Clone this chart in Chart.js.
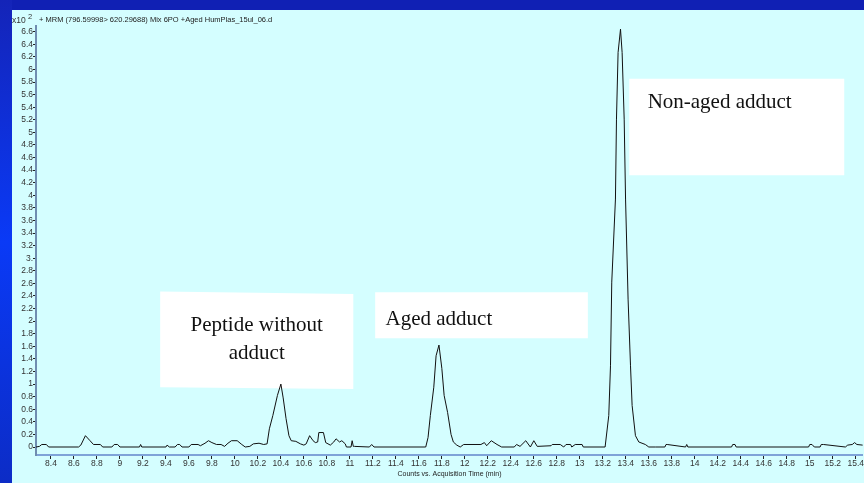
<!DOCTYPE html>
<html><head><meta charset="utf-8">
<script src="https://cdn.jsdelivr.net/npm/chart.js@4/dist/chart.umd.min.js"></script>
<style>html,body{margin:0;padding:0;background:#d4feff;overflow:hidden}#wrap{width:864px;height:483px;position:relative}canvas{display:block}</style>
</head><body><div id="wrap"><canvas id="c" width="864" height="483"></canvas></div>
<script>
// ---- data ----
const times = [
 8.27,8.30,8.32,8.36,8.38,8.64,8.66,8.70,8.74,8.77,8.83,8.85,8.93,8.95,8.98,9.00,
 9.17,9.18,9.19,9.40,9.41,9.43,9.48,9.50,9.52,9.54,9.60,9.62,9.68,9.70,9.74,9.77,
 9.80,9.84,9.88,9.91,9.94,9.97,10.02,10.06,10.09,10.13,10.16,10.21,10.25,10.28,10.30,
 10.33,10.37,10.40,10.42,10.445,10.47,10.49,10.53,10.57,10.60,10.62,10.65,10.68,10.70,
 10.72,10.73,10.77,10.79,10.83,10.86,10.88,10.91,10.93,10.96,10.97,11.01,11.02,11.03,
 11.04,11.17,11.19,11.21,11.66,11.68,11.70,11.73,11.75,11.775,11.80,11.82,11.85,11.88,
 11.90,11.93,11.96,11.99,12.14,12.17,12.19,12.23,12.28,12.32,12.43,12.45,12.48,12.53,
 12.57,12.60,12.63,12.75,12.76,12.83,12.86,12.88,12.92,12.93,12.96,13.02,13.03,13.22,
 13.252,13.267,13.278,13.31,13.319,13.333,13.354,13.368,13.386,13.398,13.42,13.441,
 13.455,13.484,13.513,13.57,13.60,13.66,13.74,13.75,13.76,13.92,13.93,13.94,14.32,14.33,
 14.35,14.36,14.99,15.00,15.02,15.04,15.09,15.10,15.12,15.31,15.33,15.37,15.39,15.41,15.46
];
const counts = [
 0,0.01,0.04,0.04,0,0,0.03,0.18,0.10,0.04,0.04,0,0,0.04,0.04,0,
 0,0.04,0,0,0.03,0,0,0.04,0.04,0,0,0.04,0.04,0.02,0.06,0.10,
 0.07,0.04,0.04,0.01,0.06,0.10,0.10,0.04,0.0,0.01,0.05,0.06,0.04,0.05,0.29,
 0.50,0.82,1.00,0.78,0.45,0.18,0.10,0.09,0.05,0.03,0.05,0.18,0.10,0.07,
 0.08,0.23,0.23,0.07,0.03,0.08,0.13,0.08,0.10,0.05,0.0,0.0,0.10,0.01,
 0.01,0,0.04,0,0,0.15,0.50,0.95,1.45,1.62,1.25,0.82,0.55,0.20,
 0.08,0.03,0,0.04,0.04,0.07,0.02,0.10,0.04,0,0,0.04,0.01,0.10,
 0,0.10,0.01,0.02,0.04,0.04,0,0.04,0.04,0,0.04,0.04,0,0,
 0.50,1.29,2.62,3.94,5.21,6.27,6.64,6.27,5.21,3.94,2.35,1.29,
 0.66,0.18,0.08,0.04,0.0,0,0,0.04,0.04,0,0.04,0,0,0.04,
 0.04,0,0,0.04,0.04,0,0,0.04,0.04,0,0.03,0.04,0.07,0.04,0.03
];
const yTickValues = [0,0.2,0.4,0.6,0.8,1,1.2,1.4,1.6,1.8,2,2.2,2.4,2.6,2.8,3,3.2,3.4,3.6,3.8,
  4,4.2,4.4,4.6,4.8,5,5.2,5.4,5.6,5.8,6,6.2,6.4,6.6];
const xTickValues = [8.4,8.6,8.8,9,9.2,9.4,9.6,9.8,10,10.2,10.4,10.6,10.8,11,11.2,11.4,11.6,11.8,
  12,12.2,12.4,12.6,12.8,13,13.2,13.4,13.6,13.8,14,14.2,14.4,14.6,14.8,15,15.2,15.4];
const plotTitle = "+ MRM (796.59998> 620.29688) Mix 6PO +Aged HumPlas_15ul_06.d";
const xAxisTitle = "Counts vs. Acquisition Time (min)";
const yScaleBase = "x10";
const yScaleExp = "2";
const annotationTexts = [["Peptide without","adduct"],["Aged adduct"],["Non-aged adduct"]];

// ---- layout / style for annotations (data coordinates) ----
const annotationBoxes = [
  {x0:9.35,x1:11.03,yTopL:2.47,yTopR:2.43,yBotL:0.95,yBotR:0.92,align:'center',tx:10.19,ty:[1.93,1.49]},
  {x0:11.22,x1:13.07,yTopL:2.46,yTopR:2.46,yBotL:1.73,yBotR:1.73,align:'left',tx:11.31,ty:[2.03]},
  {x0:13.43,x1:15.30,yTopL:5.85,yTopR:5.85,yBotL:4.32,yBotR:4.32,align:'left',tx:13.59,ty:[5.48]}
];

const bgPlugin = {
  id:'bg',
  beforeDraw(chart){
    const c = chart.ctx, W = chart.width, H = chart.height;
    c.save();
    c.fillStyle = '#d4feff'; c.fillRect(0,0,W,H);
    c.fillStyle = '#1020b4'; c.fillRect(0,0,W,10);
    const g = c.createLinearGradient(0,0,0,H);
    g.addColorStop(0,'#1424b8'); g.addColorStop(0.5,'#0a3af6'); g.addColorStop(1,'#0c2cc6');
    c.fillStyle = g; c.fillRect(0,0,12,H);
    c.restore();
  },
  beforeDatasetsDraw(chart){
    const c = chart.ctx, xs = chart.scales.x, ys = chart.scales.y;
    c.save();
    annotationBoxes.forEach((b,i)=>{
      const xl = xs.getPixelForValue(b.x0), xr = xs.getPixelForValue(b.x1);
      c.fillStyle = '#ffffff';
      c.beginPath();
      c.moveTo(xl, ys.getPixelForValue(b.yTopL));
      c.lineTo(xr, ys.getPixelForValue(b.yTopR));
      c.lineTo(xr, ys.getPixelForValue(b.yBotR));
      c.lineTo(xl, ys.getPixelForValue(b.yBotL));
      c.closePath(); c.fill();
      c.fillStyle = '#111';
      c.font = '21px "Liberation Serif", "Times New Roman", serif';
      c.textAlign = b.align; c.textBaseline = 'middle';
      annotationTexts[i].forEach((t,j)=>{
        c.fillText(t, xs.getPixelForValue(b.tx), ys.getPixelForValue(b.ty[j]));
      });
    });
    c.restore();
  },
  afterDraw(chart){
    const c = chart.ctx;
    c.save();
    c.fillStyle = '#222';
    c.textAlign = 'left'; c.textBaseline = 'middle';
    c.font = '7.5px "Liberation Sans", Arial, sans-serif';
    c.fillText(plotTitle, 39, 20);
    c.font = '8.5px "Liberation Sans", Arial, sans-serif';
    c.fillStyle = '#333';
    c.fillText(yScaleBase, 12, 20.5);
    c.font = '7.5px "Liberation Sans", Arial, sans-serif';
    c.fillText(yScaleExp, 28, 17);
    c.restore();
  }
};

const tickFont = {family:'"Liberation Sans", Arial, sans-serif', size:8.5};
new Chart(document.getElementById('c'), {
  type:'line',
  data:{datasets:[{
    data: times.map((t,i)=>({x:t, y:counts[i]})),
    borderColor:'#111', borderWidth:1, pointRadius:0, tension:0, fill:false
  }]},
  options:{
    responsive:false, animation:false, devicePixelRatio:1,
    layout:{padding:{top:26,left:0,right:0,bottom:0}},
    plugins:{legend:{display:false}, tooltip:{enabled:false}},
    scales:{
      x:{
        type:'linear', min:8.27, max:15.463,
        afterBuildTicks(s){ s.ticks = xTickValues.map(v=>({value:v})); },
        afterFit(s){ s.height = 28; },
        ticks:{autoSkip:false, maxRotation:0, padding:0, color:'#333', font:tickFont,
          callback:(v)=>String(Number(v.toFixed(1)))},
        grid:{drawOnChartArea:false, drawTicks:true, tickLength:4, color:'#222', lineWidth:1},
        border:{display:true, color:'#7ea3d8', width:2},
        title:{display:true, text:xAxisTitle, color:'#222',
          font:{family:'"Liberation Sans", Arial, sans-serif', size:7}, padding:{top:0,bottom:5}}
      },
      y:{
        type:'linear', min:-0.127, max:6.69,
        afterBuildTicks(s){ s.ticks = yTickValues.map(v=>({value:v})); },
        afterFit(s){ s.width = 36; },
        ticks:{autoSkip:false, padding:0, color:'#333', font:tickFont,
          callback:(v)=> (Math.abs(v-3)<1e-9 ? '3.' : String(Number(v.toFixed(1))))},
        grid:{drawOnChartArea:false, drawTicks:true, tickLength:3, color:'#222', lineWidth:1},
        border:{display:true, color:'#6f8db0', width:2}
      }
    }
  },
  plugins:[bgPlugin]
});
</script>
</body></html>
